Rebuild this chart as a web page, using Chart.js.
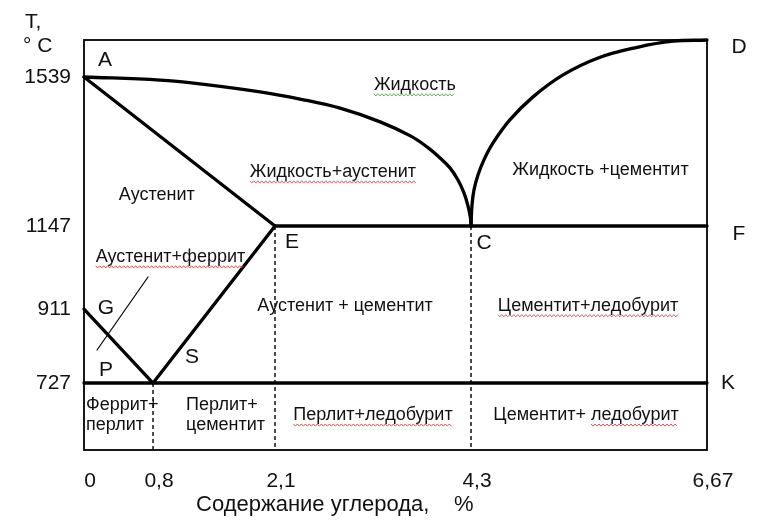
<!DOCTYPE html>
<html>
<head>
<meta charset="utf-8">
<script src="https://cdn.jsdelivr.net/npm/chart.js@4/dist/chart.umd.min.js"></script>
<style>
  html, body { margin: 0; padding: 0; background: #fff; }
  #wrap { width: 758px; height: 532px; }
</style>
</head>
<body>
<div id="wrap"><canvas id="diagram" width="758" height="532"></canvas></div>
<script>
// Диаграмма состояния железо – цементит (схема)

// Оси: содержание углерода, %, и температура, °C
const carbonTicks = [0, 0.8, 2.1, 4.3, 6.67];
const carbonTickLabels = ['0', '0,8', '2,1', '4,3', '6,67'];
const tempTicks = [727, 911, 1147, 1539];
const tempTickLabels = ['727', '911', '1147', '1539'];

// Линия ликвидус AC  [C, %; T, °C]
const liquidusAC = [
  [0, 1539], [0.875, 1531], [1.30, 1521], [1.94, 1500], [2.38, 1481],
  [2.83, 1457], [3.28, 1421], [3.62, 1384], [3.806, 1355], [3.952, 1326],
  [4.064, 1300], [4.154, 1268], [4.221, 1234], [4.266, 1200], [4.294, 1168],
  [4.3, 1147]
];
// Линия ликвидус CD
const liquidusCD = [
  [4.3, 1147], [4.31, 1202], [4.33, 1242], [4.37, 1281], [4.43, 1321],
  [4.52, 1365], [4.69, 1426], [4.92, 1486], [5.22, 1542], [5.57, 1570],
  [5.97, 1588], [6.33, 1598], [6.67, 1600]
];
// Прямые линии диаграммы
const solidusAE = [[0, 1539], [2.1, 1147]];
const lineGS = [[0, 911], [0.8, 727]];
const lineSE = [[0.8, 727], [2.1, 1147]];
const eutecticECF = [[2.1, 1147], [6.67, 1147]];
const eutectoidPSK = [[0, 727], [6.67, 727]];
const leaderGP = [[0.151, 809], [0.742, 1002]];
// Вертикальные границы структурных областей (пунктир)
const dashS = [[0.8, 727], [0.8, 600]];
const dashE = [[2.1, 1147], [2.1, 600]];
const dashC = [[4.3, 1147], [4.3, 600]];

// Характерные точки
const pointNames = ['A', 'D', 'E', 'C', 'F', 'G', 'P', 'S', 'K'];
const pointCarbon = [0, 6.67, 2.1, 4.3, 6.67, 0, 0, 0.8, 6.67];
const pointTemp = [1539, 1600, 1147, 1147, 1147, 911, 727, 727, 727];

// Подписи областей: текст, C %, T °C
const regionText = [
  ['Жидкость'], ['Жидкость+аустенит'], ['Жидкость +цементит'], ['Аустенит'],
  ['Аустенит+феррит'], ['Аустенит + цементит'], ['Цементит+ледобурит'],
  ['Феррит+', 'перлит'], ['Перлит+', 'цементит'], ['Перлит+ледобурит'],
  ['Цементит+ ледобурит']
];
const regionCarbon = [3.67, 2.75, 5.60, 0.84, 0.986, 2.886, 5.475, 0.023, 1.152, 3.20, 5.455];
const regionTemp = [1518, 1289, 1294, 1229, 1059, 920, 920, 666, 666, 666, 666];

// ---- оформление ----
const FONT = "'Liberation Sans', Arial, sans-serif";
const pointLabelOffset = {
  A: [21, -17], D: [32, 7], E: [17, 16], C: [13, 17], F: [32, 8],
  G: [22, -1], P: [22, -13], S: [39, -26], K: [21, 0]
};
const regionStyle = [
  { wave: 'green' }, { wave: 'red' }, {}, {}, { wave: 'red' }, {}, { wave: 'red' },
  { align: 'left' }, { align: 'left' }, { wave: 'red' }, { wave: 'red', waveFrom: 'ледобурит' }
];

// Схематичная (неравномерная) шкала: опорные значения и их доля длины оси
const SCALE_ANCHORS = {
  x: [[0, 0], [0.8, 0.1108], [2.1, 0.3066], [4.3, 0.6212], [6.67, 1]],
  y: [[600, 0], [727, 0.1634], [911, 0.3439], [1147, 0.5463], [1539, 0.9098], [1600, 1]]
};

class SchematicScale extends Chart.LinearScale {
  static id = 'schematic';
  buildTicks() {
    return (this.id === 'x' ? carbonTicks : tempTicks).map(v => ({ value: v }));
  }
  _toDecimal(v) {
    const a = SCALE_ANCHORS[this.id];
    let i = 0;
    while (i < a.length - 2 && v > a[i + 1][0]) i++;
    const [v0, f0] = a[i], [v1, f1] = a[i + 1];
    return f0 + (v - v0) / (v1 - v0) * (f1 - f0);
  }
  getPixelForValue(v) {
    return this.getPixelForDecimal(this._toDecimal(v));
  }
  getValueForPixel(p) {
    const d = this.getDecimalForPixel(p);
    const a = SCALE_ANCHORS[this.id];
    let i = 0;
    while (i < a.length - 2 && d > a[i + 1][1]) i++;
    const [v0, f0] = a[i], [v1, f1] = a[i + 1];
    return v0 + (d - f0) / (f1 - f0) * (v1 - v0);
  }
}
Chart.register(SchematicScale);

const toXY = arr => arr.map(([x, y]) => ({ x, y }));
const thick = (data, curve) => ({
  data: toXY(data), borderColor: '#000', borderWidth: 3.3, pointRadius: 0,
  borderCapStyle: 'round', borderJoinStyle: 'round', fill: false, clip: false,
  tension: curve ? 0.4 : 0
});
const dashed = data => ({
  data: toXY(data), borderColor: '#000', borderWidth: 1.4, borderDash: [4, 3],
  pointRadius: 0, fill: false, clip: false, tension: 0
});

function squiggle(ctx, x0, x1, y, color) {
  ctx.save();
  ctx.beginPath();
  ctx.strokeStyle = color === 'green' ? 'rgba(70,160,70,0.85)' : 'rgba(215,60,60,0.85)';
  ctx.lineWidth = 1;
  let k = 0;
  for (let x = x0; x <= x1; x += 2, k++) {
    const yy = y + (k % 2 ? 1.1 : -1.1);
    if (k === 0) ctx.moveTo(x, yy); else ctx.lineTo(x, yy);
  }
  ctx.stroke();
  ctx.restore();
}

const diagramPlugin = {
  id: 'diagramDecor',
  beforeDraw(chart) {
    const ctx = chart.ctx;
    ctx.save();
    ctx.fillStyle = '#fff';
    ctx.fillRect(0, 0, chart.width, chart.height);
    ctx.restore();
  },
  beforeDatasetsDraw(chart) {
    const { ctx, chartArea: a } = chart;
    ctx.save();
    ctx.strokeStyle = '#000';
    ctx.lineWidth = 1.8;
    ctx.strokeRect(a.left, a.top, a.right - a.left, a.bottom - a.top);
    ctx.restore();
  },
  afterDatasetsDraw(chart) {
    const { ctx, scales: { x, y } } = chart;
    ctx.save();
    ctx.fillStyle = '#111';

    // буквенные обозначения точек
    ctx.font = `21px ${FONT}`;
    ctx.textAlign = 'center';
    ctx.textBaseline = 'middle';
    pointNames.forEach((n, i) => {
      const [dx, dy] = pointLabelOffset[n];
      ctx.fillText(n, x.getPixelForValue(pointCarbon[i]) + dx, y.getPixelForValue(pointTemp[i]) + dy);
    });

    // подписи областей
    const fs = 18;
    ctx.font = `${fs}px ${FONT}`;
    regionText.forEach((lines, i) => {
      const st = regionStyle[i];
      const px = x.getPixelForValue(regionCarbon[i]);
      const py = y.getPixelForValue(regionTemp[i]);
      const lh = 20;
      ctx.textAlign = st.align || 'center';
      lines.forEach((t, j) => {
        const ly = py + (j - (lines.length - 1) / 2) * lh;
        ctx.fillText(t, px, ly);
        if (st.wave) {
          const w = ctx.measureText(t).width;
          let x0 = st.align === 'left' ? px : px - w / 2;
          let x1 = x0 + w;
          if (st.waveFrom) {
            x0 += ctx.measureText(t.slice(0, t.indexOf(st.waveFrom))).width;
          }
          squiggle(ctx, x0, x1, ly + fs * 0.55, st.wave);
        }
      });
    });

    // обозначение оси температур
    ctx.font = `21px ${FONT}`;
    ctx.textAlign = 'left';
    ctx.fillText('T,', 25, 22);
    ctx.fillText('° C', 23, 46);

    // подпись оси концентраций
    ctx.font = `22px ${FONT}`;
    ctx.fillText('Содержание углерода,', 196, 505);
    ctx.fillText('%', 454, 505);
    ctx.restore();
  }
};

const tickFont = { family: FONT, size: 21 };

new Chart(document.getElementById('diagram'), {
  type: 'line',
  data: {
    datasets: [
      thick(liquidusAC, true),
      thick(liquidusCD, true),
      thick(solidusAE),
      thick(lineGS),
      thick(lineSE),
      thick(eutecticECF),
      thick(eutectoidPSK),
      { ...thick(leaderGP), borderWidth: 1.2 },
      dashed(dashS),
      dashed(dashE),
      dashed(dashC)
    ]
  },
  options: {
    responsive: false,
    animation: false,
    events: [],
    layout: { padding: { top: 40, right: 51, left: 0, bottom: 0 } },
    plugins: { legend: { display: false }, tooltip: { enabled: false } },
    scales: {
      x: {
        type: 'schematic', min: 0, max: 6.67,
        grid: { display: false, drawTicks: false }, border: { display: false },
        ticks: {
          font: tickFont, color: '#111', padding: 19, labelOffset: 6,
          autoSkip: false, maxRotation: 0,
          callback: (v, i) => carbonTickLabels[i]
        },
        afterFit: s => { s.height = 82; }
      },
      y: {
        type: 'schematic', min: 600, max: 1600,
        grid: { display: false, drawTicks: false }, border: { display: false },
        ticks: {
          font: tickFont, color: '#111', padding: 13, autoSkip: false,
          callback: (v, i) => tempTickLabels[i]
        },
        afterFit: s => { s.width = 84; }
      }
    }
  },
  plugins: [diagramPlugin]
});
</script>
</body>
</html>
